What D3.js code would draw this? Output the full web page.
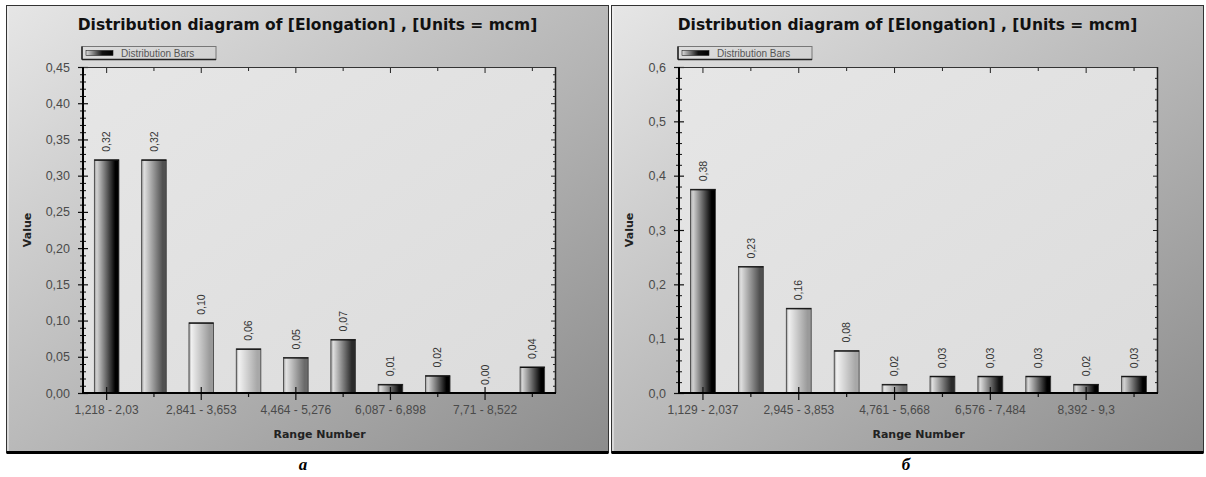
<!DOCTYPE html>
<html>
<head>
<meta charset="utf-8">
<script src="https://cdn.jsdelivr.net/npm/d3@7/dist/d3.min.js"></script>
<style>
  html, body { margin: 0; padding: 0; background: #ffffff; }
  svg { display: block; }
</style>
</head>
<body>
<svg id="chart" width="1206" height="477"></svg>
<script>
// ---- data: panel "а" ----
const leftCategories = [
  "1,218 - 2,03", "2,03 - 2,841", "2,841 - 3,653", "3,653 - 4,464", "4,464 - 5,276",
  "5,276 - 6,087", "6,087 - 6,898", "6,898 - 7,71", "7,71 - 8,522", "8,522 - 9,333"
];
const leftValues = [0.322, 0.322, 0.097, 0.061, 0.049, 0.074, 0.012, 0.024, 0.0, 0.036];
const leftMajorTicks = [0, 0.05, 0.10, 0.15, 0.20, 0.25, 0.30, 0.35, 0.40, 0.45];
const leftMinorStep = 0.01;

// ---- data: panel "б" ----
const rightCategories = [
  "1,129 - 2,037", "2,037 - 2,945", "2,945 - 3,853", "3,853 - 4,761", "4,761 - 5,668",
  "5,668 - 6,576", "6,576 - 7,484", "7,484 - 8,392", "8,392 - 9,3", "9,3 - 10,208"
];
const rightValues = [0.375, 0.233, 0.156, 0.078, 0.016, 0.031, 0.031, 0.031, 0.016, 0.031];
const rightMajorTicks = [0, 0.1, 0.2, 0.3, 0.4, 0.5, 0.6];
const rightMinorStep = 0.02;

// shared texts
const titleText = "Distribution diagram of [Elongation] , [Units = mcm]";
const legendText = "Distribution Bars";
const yTitle = "Value";
const xTitle = "Range Number";

// bar shading (light edge, dark edge) for each bar position
const barShades = [
  ["#d2d2d2", "#000000"], ["#e0e0e0", "#505050"], ["#f0f0f0", "#9a9a9a"], ["#f2f2f2", "#a8a8a8"],
  ["#e4e4e4", "#6a6a6a"], ["#dedede", "#2a2a2a"], ["#dadada", "#101010"], ["#d8d8d8", "#000000"],
  ["#d6d6d6", "#000000"], ["#d4d4d4", "#000000"]
];

const locale = d3.formatLocale({ decimal: ",", thousands: " ", grouping: [3], currency: ["", ""] });

const svg = d3.select("#chart");
const defs = svg.append("defs");

svg.append("rect").attr("width", 1206).attr("height", 477).attr("fill", "#ffffff");

// panel background gradient
const pg = defs.append("linearGradient").attr("id", "panelBg")
  .attr("x1", 0).attr("y1", 0).attr("x2", 1).attr("y2", 1);
pg.append("stop").attr("offset", 0).attr("stop-color", "#e6e6e6");
pg.append("stop").attr("offset", 1).attr("stop-color", "#8c8c8c");

const ag = defs.append("linearGradient").attr("id", "plotBg")
  .attr("x1", 0).attr("y1", 0).attr("x2", 1).attr("y2", 1);
ag.append("stop").attr("offset", 0).attr("stop-color", "#e6e6e6");
ag.append("stop").attr("offset", 1).attr("stop-color", "#dcdcdc");

barShades.forEach((s, i) => {
  const g = defs.append("linearGradient").attr("id", "bar" + i)
    .attr("x1", 0).attr("y1", 0).attr("x2", 1).attr("y2", 0);
  g.append("stop").attr("offset", 0).attr("stop-color", "#9a9a9a");
  g.append("stop").attr("offset", 0.1).attr("stop-color", s[0]);
  g.append("stop").attr("offset", 0.85).attr("stop-color", s[1]);
  g.append("stop").attr("offset", 1).attr("stop-color", s[1]);
});

const lg = defs.append("linearGradient").attr("id", "legendSwatch")
  .attr("x1", 0).attr("y1", 0).attr("x2", 1).attr("y2", 0);
lg.append("stop").attr("offset", 0).attr("stop-color", "#dddddd");
lg.append("stop").attr("offset", 0.6).attr("stop-color", "#111111");
lg.append("stop").attr("offset", 1).attr("stop-color", "#000000");

function drawPanel(cfg) {
  const g = svg.append("g");
  const { px, py, pw, ph, left, right, top, bottom } = cfg;

  // frame
  g.append("rect").attr("x", px).attr("y", py).attr("width", pw).attr("height", ph)
    .attr("fill", "url(#panelBg)").attr("stroke", "#333").attr("stroke-width", 1);
  g.append("line").attr("x1", px + 1.5).attr("x2", px + 1.5).attr("y1", py + 1).attr("y2", py + ph - 1)
    .attr("stroke", "#f4f4f4").attr("stroke-width", 1);
  g.append("line").attr("x1", px).attr("x2", px + pw).attr("y1", py + ph).attr("y2", py + ph)
    .attr("stroke", "#000").attr("stroke-width", 3);

  // title
  g.append("text").attr("x", px + pw / 2).attr("y", py + 24)
    .attr("text-anchor", "middle")
    .style("font-family", "'DejaVu Sans', sans-serif").style("font-weight", "bold")
    .style("font-size", "15.5px").attr("fill", "#111")
    .text(titleText);

  // scales
  const x = d3.scaleBand().domain(cfg.categories).range([left, right])
    .paddingInner(0.48).paddingOuter(0.24);
  const ymax = cfg.majorTicks[cfg.majorTicks.length - 1];
  const y = d3.scaleLinear().domain([0, ymax]).range([bottom, top]);

  // plot area
  g.append("rect").attr("x", left).attr("y", top).attr("width", right - left).attr("height", bottom - top)
    .attr("fill", "url(#plotBg)");

  // minor ticks
  const minor = d3.range(0, ymax + 1e-9, cfg.minorStep)
    .filter(v => !cfg.majorTicks.some(m => Math.abs(m - v) < 1e-9));

  const yMinorAxis = d3.axisLeft(y).tickValues(minor).tickSize(3).tickFormat("");
  const ym = g.append("g").attr("transform", `translate(${left},0)`).call(yMinorAxis);
  ym.select(".domain").remove();
  ym.selectAll(".tick line").attr("x1", 3).attr("stroke", "#111");

  const yAxis = d3.axisLeft(y).tickValues(cfg.majorTicks).tickSize(5).tickPadding(8)
    .tickFormat(locale.format(cfg.tickFormat));
  const ya = g.append("g").attr("transform", `translate(${left},0)`).call(yAxis);
  ya.select(".domain").remove();
  ya.selectAll(".tick line").attr("x1", 5).attr("stroke", "#111").attr("stroke-width", 1.2);
  ya.selectAll(".tick text")
    .style("font-family", "'Liberation Sans', Arial, sans-serif").style("font-size", "12.5px")
    .attr("fill", "#4a4a4a");

  // right edge ticks
  const yr = g.append("g").attr("transform", `translate(${right},0)`);
  yr.call(d3.axisRight(y).tickValues(cfg.majorTicks).tickSize(-5).tickFormat(""));
  yr.select(".domain").remove();
  yr.selectAll(".tick line").attr("stroke", "#222");
  const yr2 = g.append("g").attr("transform", `translate(${right},0)`);
  yr2.call(d3.axisRight(y).tickValues(minor).tickSize(-3).tickFormat(""));
  yr2.select(".domain").remove();
  yr2.selectAll(".tick line").attr("stroke", "#222");

  // top edge ticks
  const xt = g.append("g").attr("transform", `translate(0,${top})`);
  xt.call(d3.axisTop(x).tickSize(-5).tickFormat(""));
  xt.select(".domain").remove();
  xt.selectAll(".tick line").attr("stroke", "#222")
    .attr("y2", (d, i) => i % 2 === 0 ? 6 : 4);

  // plot frame
  g.append("line").attr("x1", left).attr("x2", right).attr("y1", top + 0.5).attr("y2", top + 0.5)
    .attr("stroke", "#333").attr("stroke-width", 1);
  g.append("line").attr("x1", right - 0.5).attr("x2", right - 0.5).attr("y1", top).attr("y2", bottom)
    .attr("stroke", "#222").attr("stroke-width", 1.5);

  // bars
  g.append("g").selectAll("rect").data(cfg.values).join("rect")
    .attr("x", (d, i) => x(cfg.categories[i]))
    .attr("width", x.bandwidth())
    .attr("y", d => y(d))
    .attr("height", d => bottom - y(d))
    .attr("fill", (d, i) => `url(#bar${i})`)
    .attr("stroke", "#3a3a3a").attr("stroke-width", 0.8);
  g.append("g").selectAll("line").data(cfg.values).join("line")
    .attr("x1", (d, i) => x(cfg.categories[i]))
    .attr("x2", (d, i) => x(cfg.categories[i]) + x.bandwidth())
    .attr("y1", d => y(d) + 0.5).attr("y2", d => y(d) + 0.5)
    .attr("stroke", d => d > 0 ? "#111" : "none").attr("stroke-width", 1.2);

  // value labels
  const fmt = locale.format(".2f");
  g.append("g").selectAll("text").data(cfg.values).join("text")
    .attr("transform", (d, i) => `translate(${x(cfg.categories[i]) + x.bandwidth() / 2},${y(d) - 8}) rotate(-90)`)
    .attr("dy", "0.35em")
    .attr("text-anchor", "start")
    .style("font-family", "'Liberation Sans', Arial, sans-serif").style("font-size", "10.5px")
    .attr("fill", "#333")
    .text(d => fmt(d));

  // x axis
  const xAxis = d3.axisBottom(x).tickSize(6).tickPadding(6)
    .tickFormat((d, i) => i % 2 === 0 ? d : "");
  const xa = g.append("g").attr("transform", `translate(0,${bottom})`).call(xAxis);
  xa.select(".domain").remove();
  xa.selectAll(".tick line").attr("stroke", "#111").attr("stroke-width", 1.2)
    .attr("y1", (d, i) => i % 2 === 0 ? -6 : 0)
    .attr("y2", (d, i) => i % 2 === 0 ? 7 : 4);
  xa.selectAll(".tick text")
    .style("font-family", "'Liberation Sans', Arial, sans-serif").style("font-size", "12px")
    .attr("fill", "#4a4a4a");

  // axis lines
  g.append("line").attr("x1", left).attr("x2", left).attr("y1", top).attr("y2", bottom + 1)
    .attr("stroke", "#000").attr("stroke-width", 2);
  g.append("line").attr("x1", left - 1).attr("x2", right).attr("y1", bottom).attr("y2", bottom)
    .attr("stroke", "#000").attr("stroke-width", 2);

  // axis titles
  g.append("text")
    .attr("transform", `translate(${cfg.yTitleX},${(top + bottom) / 2}) rotate(-90)`)
    .attr("text-anchor", "middle").attr("dy", "0.35em")
    .style("font-family", "'DejaVu Sans', sans-serif").style("font-weight", "bold").style("font-size", "11px")
    .attr("fill", "#222").text(yTitle);
  g.append("text").attr("x", (left + right) / 2).attr("y", bottom + 45)
    .attr("text-anchor", "middle")
    .style("font-family", "'DejaVu Sans', sans-serif").style("font-weight", "bold").style("font-size", "11px")
    .attr("fill", "#222").text(xTitle);

  // legend
  const lx = left - 1, ly = 46.5;
  const leg = g.append("g");
  leg.append("rect").attr("x", lx).attr("y", ly).attr("width", 134).attr("height", 13)
    .attr("fill", "none").attr("stroke", "#777").attr("stroke-width", 1);
  leg.append("line").attr("x1", lx).attr("x2", lx).attr("y1", ly).attr("y2", ly + 13)
    .attr("stroke", "#222").attr("stroke-width", 1.5);
  leg.append("line").attr("x1", lx).attr("x2", lx + 134).attr("y1", ly + 13).attr("y2", ly + 13)
    .attr("stroke", "#222").attr("stroke-width", 1.5);
  leg.append("rect").attr("x", lx + 4).attr("y", ly + 4).attr("width", 27).attr("height", 5)
    .attr("fill", "url(#legendSwatch)").attr("stroke", "#222").attr("stroke-width", 0.6);
  leg.append("text").attr("x", lx + 39).attr("y", ly + 10.5)
    .style("font-family", "'Liberation Sans', Arial, sans-serif").style("font-size", "10px")
    .attr("fill", "#555").text(legendText);

  // caption below panel
  svg.append("text").attr("x", cfg.captionX).attr("y", 470)
    .attr("text-anchor", "middle")
    .style("font-family", "'Liberation Serif', 'Times New Roman', serif")
    .style("font-weight", "bold").style("font-style", "italic").style("font-size", "17px")
    .attr("fill", "#000").text(cfg.caption);
}

drawPanel({
  px: 6.5, py: 5.5, pw: 602, ph: 447,
  left: 83, right: 556, top: 67, bottom: 393,
  categories: leftCategories, values: leftValues,
  majorTicks: leftMajorTicks, minorStep: leftMinorStep, tickFormat: ".2f",
  yTitleX: 27, caption: "а", captionX: 303
});

drawPanel({
  px: 611.5, py: 5.5, pw: 592, ph: 447,
  left: 679, right: 1158, top: 67, bottom: 393,
  categories: rightCategories, values: rightValues,
  majorTicks: rightMajorTicks, minorStep: rightMinorStep, tickFormat: ".1f",
  yTitleX: 629, caption: "б", captionX: 906
});
</script>
</body>
</html>
